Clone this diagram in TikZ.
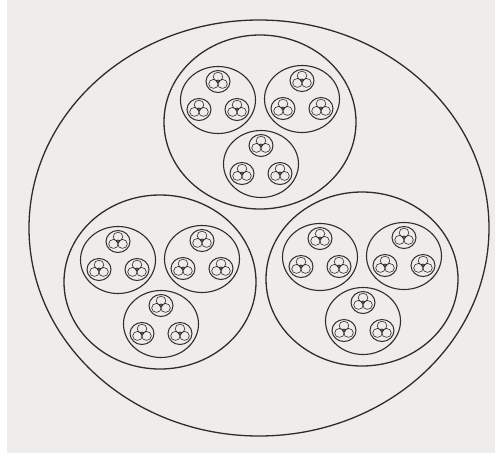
\documentclass[tikz,border=0pt]{standalone}
\usepackage{tikz}
\usetikzlibrary{calc}
\definecolor{bgc}{HTML}{EFEDEB}
\definecolor{ink}{HTML}{2E2C2C}
\tikzset{
  lvlone/.style={draw=ink, line width=1.3pt},
  lvltwo/.style={draw=ink, line width=1.3pt},
  lvlthree/.style={draw=ink, line width=1.1pt},
  lvlfour/.style={draw=ink, line width=1.0pt},
  lvlfive/.style={draw=ink, line width=0.6pt}
}
\begin{document}
\begin{tikzpicture}[x=1pt,y=-1pt]
\useasboundingbox (0,0) rectangle (495,453);
\fill[white] (0,0) rectangle (495,453);
\fill[bgc] (7,0) rectangle (495,453);
\draw[lvlone] (259,228) circle[x radius=230,y radius=208];
\foreach \cx/\cy in {260/122,160/282,362/279} {
  \draw[lvltwo] (\cx,\cy) circle[x radius=96,y radius=87];
  \foreach \dx/\dy in {-42/-22,42/-23,1/42} {
    \pgfmathsetmacro{\mx}{\cx+\dx}
    \pgfmathsetmacro{\my}{\cy+\dy}
    \draw[lvlthree] (\mx,\my) circle[x radius=37.5,y radius=33.5];
    \foreach \ex/\ey in {0/-18.5,-19/9.5,19/9.5} {
      \pgfmathsetmacro{\tx}{\mx+\ex}
      \pgfmathsetmacro{\ty}{\my+\ey}
      \draw[lvlfour] (\tx,\ty) circle[x radius=12,y radius=11];
      \foreach \a in {-90,30,150} {
        \draw[lvlfive] ($(\tx,\ty)+(\a:5.2 and 4.8)$) circle[x radius=4.8,y radius=4.5];
      }
      \draw[lvlfive] (\tx,\ty) circle[radius=1.8];
    }
  }
}
\end{tikzpicture}
\end{document}
